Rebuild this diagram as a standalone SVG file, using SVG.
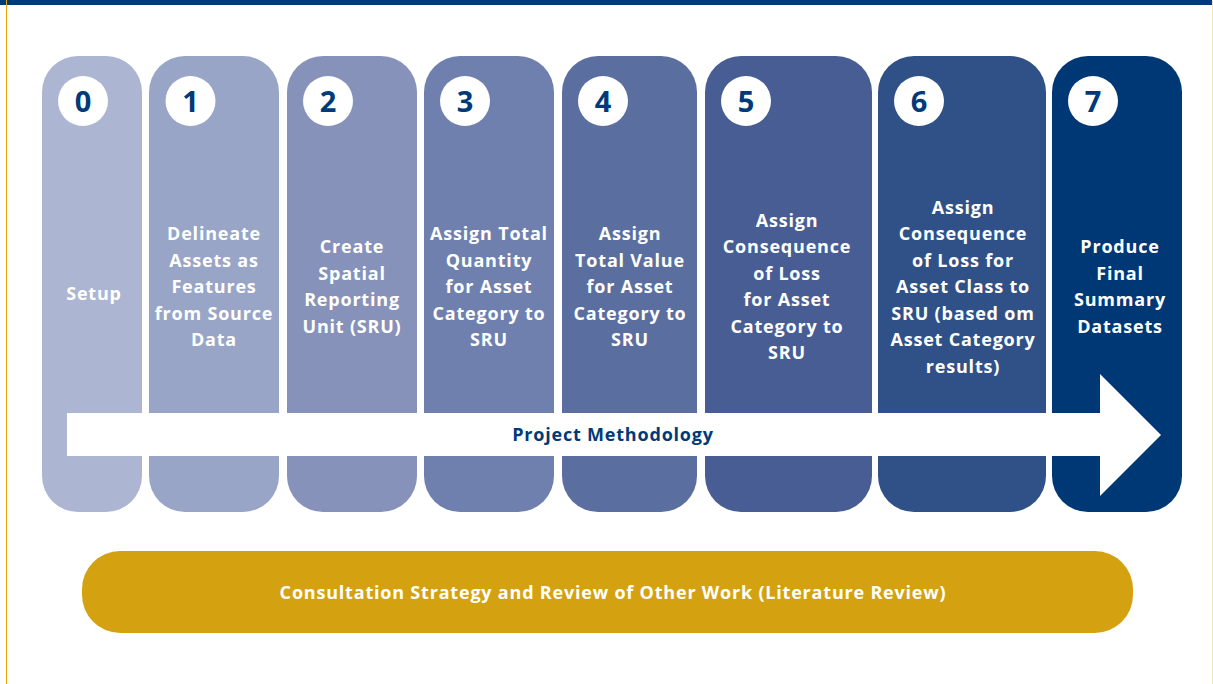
<svg xmlns="http://www.w3.org/2000/svg" width="1213" height="684" viewBox="0 0 1213 684">
<style>
.t{font-family:"Open Sans","Liberation Sans",sans-serif;font-weight:700;font-size:18px;letter-spacing:0.8px;fill:#fff;text-anchor:middle}
.n{font-family:"Open Sans","Liberation Sans",sans-serif;font-weight:700;font-size:29px;fill:#003a78;text-anchor:middle}
.c{fill:#fff}
</style>
<rect width="1213" height="684" fill="#fff"/>
<rect x="0" y="0" width="1213" height="5" fill="#003a7a"/>
<line x1="6.5" y1="0" x2="6.5" y2="684" stroke="#e8a200" stroke-width="1"/>
<line x1="1212.5" y1="0" x2="1212.5" y2="684" stroke="#f5e6b8" stroke-width="1"/>

<g id="step0"><rect x="42" y="56" width="100" height="456" rx="36" fill="#acb5d2"/><circle class="c" cx="83" cy="101" r="25"/><text class="n" x="83" y="112">0</text><text class="t" x="94" y="300">Setup</text></g>
<g id="step1"><rect x="149" y="56" width="130" height="456" rx="36" fill="#98a5c6"/><circle class="c" cx="190.5" cy="101" r="25"/><text class="n" x="190.5" y="112">1</text><text class="t" x="214"><tspan x="214" y="240">Delineate</tspan><tspan x="214" y="266.5">Assets as</tspan><tspan x="214" y="293">Features</tspan><tspan x="214" y="319.5">from Source</tspan><tspan x="214" y="346">Data</tspan></text></g>
<g id="step2"><rect x="287" y="56" width="130" height="456" rx="36" fill="#8692ba"/><circle class="c" cx="328" cy="101" r="25"/><text class="n" x="328" y="112">2</text><text class="t"><tspan x="352" y="253">Create</tspan><tspan x="352" y="279.5">Spatial</tspan><tspan x="352" y="306">Reporting</tspan><tspan x="352" y="332.5">Unit (SRU)</tspan></text></g>
<g id="step3"><rect x="424" y="56" width="130" height="456" rx="36" fill="#7080ae"/><circle class="c" cx="465" cy="101" r="25"/><text class="n" x="465" y="112">3</text><text class="t"><tspan x="489" y="240">Assign Total</tspan><tspan x="489" y="266.5">Quantity</tspan><tspan x="489" y="293">for Asset</tspan><tspan x="489" y="319.5">Category to</tspan><tspan x="489" y="346">SRU</tspan></text></g>
<g id="step4"><rect x="562" y="56" width="135" height="456" rx="36" fill="#5a6ea0"/><circle class="c" cx="603" cy="101" r="25"/><text class="n" x="603" y="112">4</text><text class="t"><tspan x="630" y="240">Assign</tspan><tspan x="630" y="266.5">Total Value</tspan><tspan x="630" y="293">for Asset</tspan><tspan x="630" y="319.5">Category to</tspan><tspan x="630" y="346">SRU</tspan></text></g>
<g id="step5"><rect x="705" y="56" width="167" height="456" rx="36" fill="#475d94"/><circle class="c" cx="746" cy="101" r="25"/><text class="n" x="746" y="112">5</text><text class="t"><tspan x="787" y="226.5">Assign</tspan><tspan x="787" y="253">Consequence</tspan><tspan x="787" y="279.5">of Loss</tspan><tspan x="787" y="306">for Asset</tspan><tspan x="787" y="332.5">Category to</tspan><tspan x="787" y="359">SRU</tspan></text></g>
<g id="step6"><rect x="878" y="56" width="168" height="456" rx="36" fill="#2f5188"/><circle class="c" cx="919" cy="101" r="25"/><text class="n" x="919" y="112">6</text><text class="t"><tspan x="963" y="213.5">Assign</tspan><tspan x="963" y="240">Consequence</tspan><tspan x="963" y="266.5">of Loss for</tspan><tspan x="963" y="293">Asset Class to</tspan><tspan x="963" y="319.5">SRU (based om</tspan><tspan x="963" y="346">Asset Category</tspan><tspan x="963" y="372.5">results)</tspan></text></g>
<g id="step7"><rect x="1052" y="56" width="130" height="456" rx="36" fill="#003875"/><circle class="c" cx="1093" cy="101" r="25"/><text class="n" x="1093" y="112">7</text><text class="t"><tspan x="1120" y="253">Produce</tspan><tspan x="1120" y="279.5">Final</tspan><tspan x="1120" y="306">Summary</tspan><tspan x="1120" y="332.5">Datasets</tspan></text></g>

<g id="connectors">
<polygon id="arrow" points="67,413 1100,413 1100,374 1161,435 1100,496 1100,456 67,456" fill="#fff"/>
<text class="t" x="613" y="441" style="fill:#003a78">Project Methodology</text>
</g>

<g id="consultation"><rect x="82" y="551" width="1051" height="82" rx="38" fill="#d4a211"/><text class="t" x="613" y="599">Consultation Strategy and Review of Other Work (Literature Review)</text></g>
</svg>
